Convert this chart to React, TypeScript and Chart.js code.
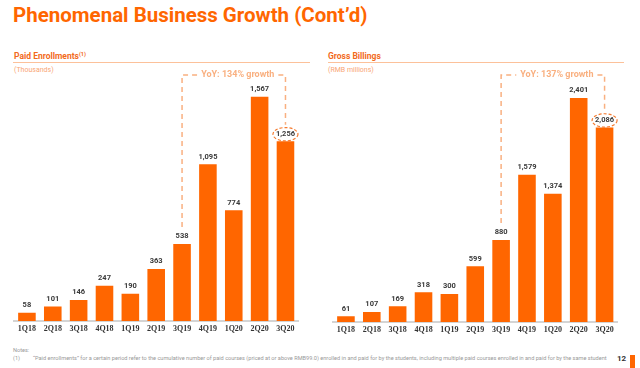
import React, { useEffect, useRef } from "react";
import { Chart, registerables } from "chart.js";

Chart.register(...registerables);

const quarters = ["1Q18", "2Q18", "3Q18", "4Q18", "1Q19", "2Q19", "3Q19", "4Q19", "1Q20", "2Q20", "3Q20"];
const enrollments = [58, 101, 146, 247, 190, 363, 538, 1095, 774, 1567, 1256];
const billings = [61, 107, 169, 318, 300, 599, 880, 1579, 1374, 2401, 2086];
const enrollmentsYoY = "YoY: 134% growth";
const billingsYoY = "YoY: 137% growth";

const ORANGE = "#FF6600";
const BOX = "#F9B080";

function fmt(v: number) {
  return v.toLocaleString("en-US");
}

const labelsPlugin = {
  id: "valueLabelsAndBox",
  afterDraw(chart: any) {
    const ctx = chart.ctx;
    const opts = chart.options.plugins.valueLabelsAndBox;
    const meta = chart.getDatasetMeta(0);
    const data = chart.data.datasets[0].data as number[];
    ctx.save();
    ctx.font = "bold 7.5px Roboto";
    ctx.fillStyle = "#3a3a3a";
    ctx.textAlign = "center";
    ctx.textBaseline = "middle";
    meta.data.forEach((bar: any, i: number) => {
      ctx.fillText(fmt(data[i]), bar.x, bar.y - 7.5);
    });
    // YoY box
    const bFrom = meta.data[opts.from];
    const bTo = meta.data[opts.to];
    const topY = 75;
    const x1 = bFrom.x;
    const x2 = bTo.x;
    ctx.font = "bold 9px Roboto";
    const tw = ctx.measureText(opts.text).width;
    const midX = (x1 + x2) / 2 + 4;
    ctx.strokeStyle = BOX;
    ctx.lineWidth = 1.5;
    ctx.setLineDash([5, 4]);
    ctx.beginPath();
    ctx.moveTo(x1, bFrom.y - 17);
    ctx.lineTo(x1, topY);
    ctx.lineTo(midX - tw / 2 - 4, topY);
    ctx.moveTo(midX + tw / 2 + 4, topY);
    ctx.lineTo(x2, topY);
    ctx.lineTo(x2, bTo.y - 7.5 - 9);
    ctx.stroke();
    ctx.fillStyle = BOX;
    ctx.textAlign = "center";
    ctx.textBaseline = "middle";
    ctx.fillText(opts.text, midX, topY);
    // ellipse
    ctx.strokeStyle = "#F57A2E";
    ctx.lineWidth = 1.2;
    ctx.setLineDash([3, 2]);
    ctx.beginPath();
    ctx.ellipse(bTo.x, bTo.y - 7, 12.5, 6.7, 0, 0, Math.PI * 2);
    ctx.stroke();
    ctx.restore();
  },
};

function makeConfig(values: number[], yMax: number, pad: any, yoy: string): any {
  return {
    type: "bar",
    data: {
      labels: quarters,
      datasets: [
        {
          data: values,
          backgroundColor: ORANGE,
          borderWidth: 0,
          barPercentage: 0.68,
          categoryPercentage: 1,
        },
      ],
    },
    options: {
      animation: false,
      responsive: false,
      maintainAspectRatio: false,
      layout: { padding: pad },
      plugins: {
        legend: { display: false },
        tooltip: { enabled: false },
        valueLabelsAndBox: { from: 6, to: 10, text: yoy },
      },
      scales: {
        x: {
          grid: { display: false, drawTicks: false },
          border: { display: true, color: "#d4d4d4", width: 2 },
          ticks: {
            color: "#333",
            padding: 3,
            font: { family: "Liberation Serif", weight: "bold", size: 8 },
            maxRotation: 0,
            autoSkip: false,
          },
        },
        y: { display: false, min: 0, max: yMax },
      },
    },
    plugins: [labelsPlugin],
  };
}

function BarChart({ values, yMax, pad, yoy, left }: any) {
  const ref = useRef<HTMLCanvasElement>(null);
  useEffect(() => {
    const chart = new Chart(ref.current as HTMLCanvasElement, makeConfig(values, yMax, pad, yoy));
    return () => chart.destroy();
  }, []);
  return (
    <canvas
      ref={ref}
      width={320}
      height={345}
      style={{ position: "absolute", left, top: 0, width: 320, height: 345 }}
    />
  );
}

export default function App() {
  useEffect(() => {
    document.body.style.margin = "0";
  }, []);
  const sub: React.CSSProperties = {
    position: "absolute",
    fontFamily: "Roboto",
    fontWeight: 700,
    fontSize: 8.5,
    color: "#F26A1B",
    whiteSpace: "nowrap",
    lineHeight: "10px",
  };
  const unit: React.CSSProperties = {
    position: "absolute",
    fontFamily: "Roboto",
    fontSize: 7,
    color: "#F9A676",
    whiteSpace: "nowrap",
    lineHeight: "9px",
  };
  const rule: React.CSSProperties = {
    position: "absolute",
    height: 1.5,
    background: "#FCC19A",
  };
  const note: React.CSSProperties = {
    position: "absolute",
    fontFamily: "Roboto",
    fontSize: 5.6,
    color: "#999",
    lineHeight: "8px",
    whiteSpace: "nowrap",
  };
  return (
    <div style={{ position: "fixed", left: 0, top: 0, width: 640, height: 368, background: "#fff", overflow: "hidden" }}>
      <div
        style={{
          position: "absolute",
          left: 13,
          top: 3,
          fontFamily: "Roboto",
          fontWeight: 700,
          fontSize: 20.5,
          color: ORANGE,
          whiteSpace: "nowrap",
          lineHeight: "24px",
        }}
      >
        Phenomenal Business Growth (Cont’d)
      </div>
      <div style={{ ...sub, left: 14, top: 51 }}>
        Paid Enrollments<sup style={{ fontSize: 5.5, verticalAlign: "top", lineHeight: "7px" }}>(1)</sup>
      </div>
      <div style={{ ...rule, left: 13, top: 61.5, width: 297 }} />
      <div style={{ ...unit, left: 14, top: 66 }}>(Thousands)</div>
      <div style={{ ...sub, left: 328, top: 51 }}>Gross Billings</div>
      <div style={{ ...rule, left: 328, top: 61.5, width: 296 }} />
      <div style={{ ...unit, left: 328, top: 66 }}>(RMB millions)</div>

      <BarChart values={enrollments} yMax={1700} yoy={enrollmentsYoY} left={0} pad={{ left: 14, right: 21.6, top: 77.7, bottom: 8.4 }} />
      <BarChart values={billings} yMax={2600} yoy={billingsYoY} left={320} pad={{ left: 13, right: 22.5, top: 79.5, bottom: 7.4 }} />

      <div style={{ ...note, left: 13, top: 346 }}>Notes:</div>
      <div style={{ ...note, left: 13, top: 354 }}>(1)</div>
      <div style={{ ...note, left: 33, top: 354 }}>
        “Paid enrollments” for a certain period refer to the cumulative number of paid courses (priced at or above RMB99.0) enrolled in and paid for by the students, including multiple paid courses enrolled in and paid for by the same student
      </div>
      <div style={{ position: "absolute", left: 617, top: 354, fontFamily: "Roboto", fontWeight: 700, fontSize: 8, color: "#333", lineHeight: "10px" }}>12</div>
      <div style={{ position: "absolute", left: 630, top: 355, width: 5, height: 13, background: ORANGE }} />
    </div>
  );
}
